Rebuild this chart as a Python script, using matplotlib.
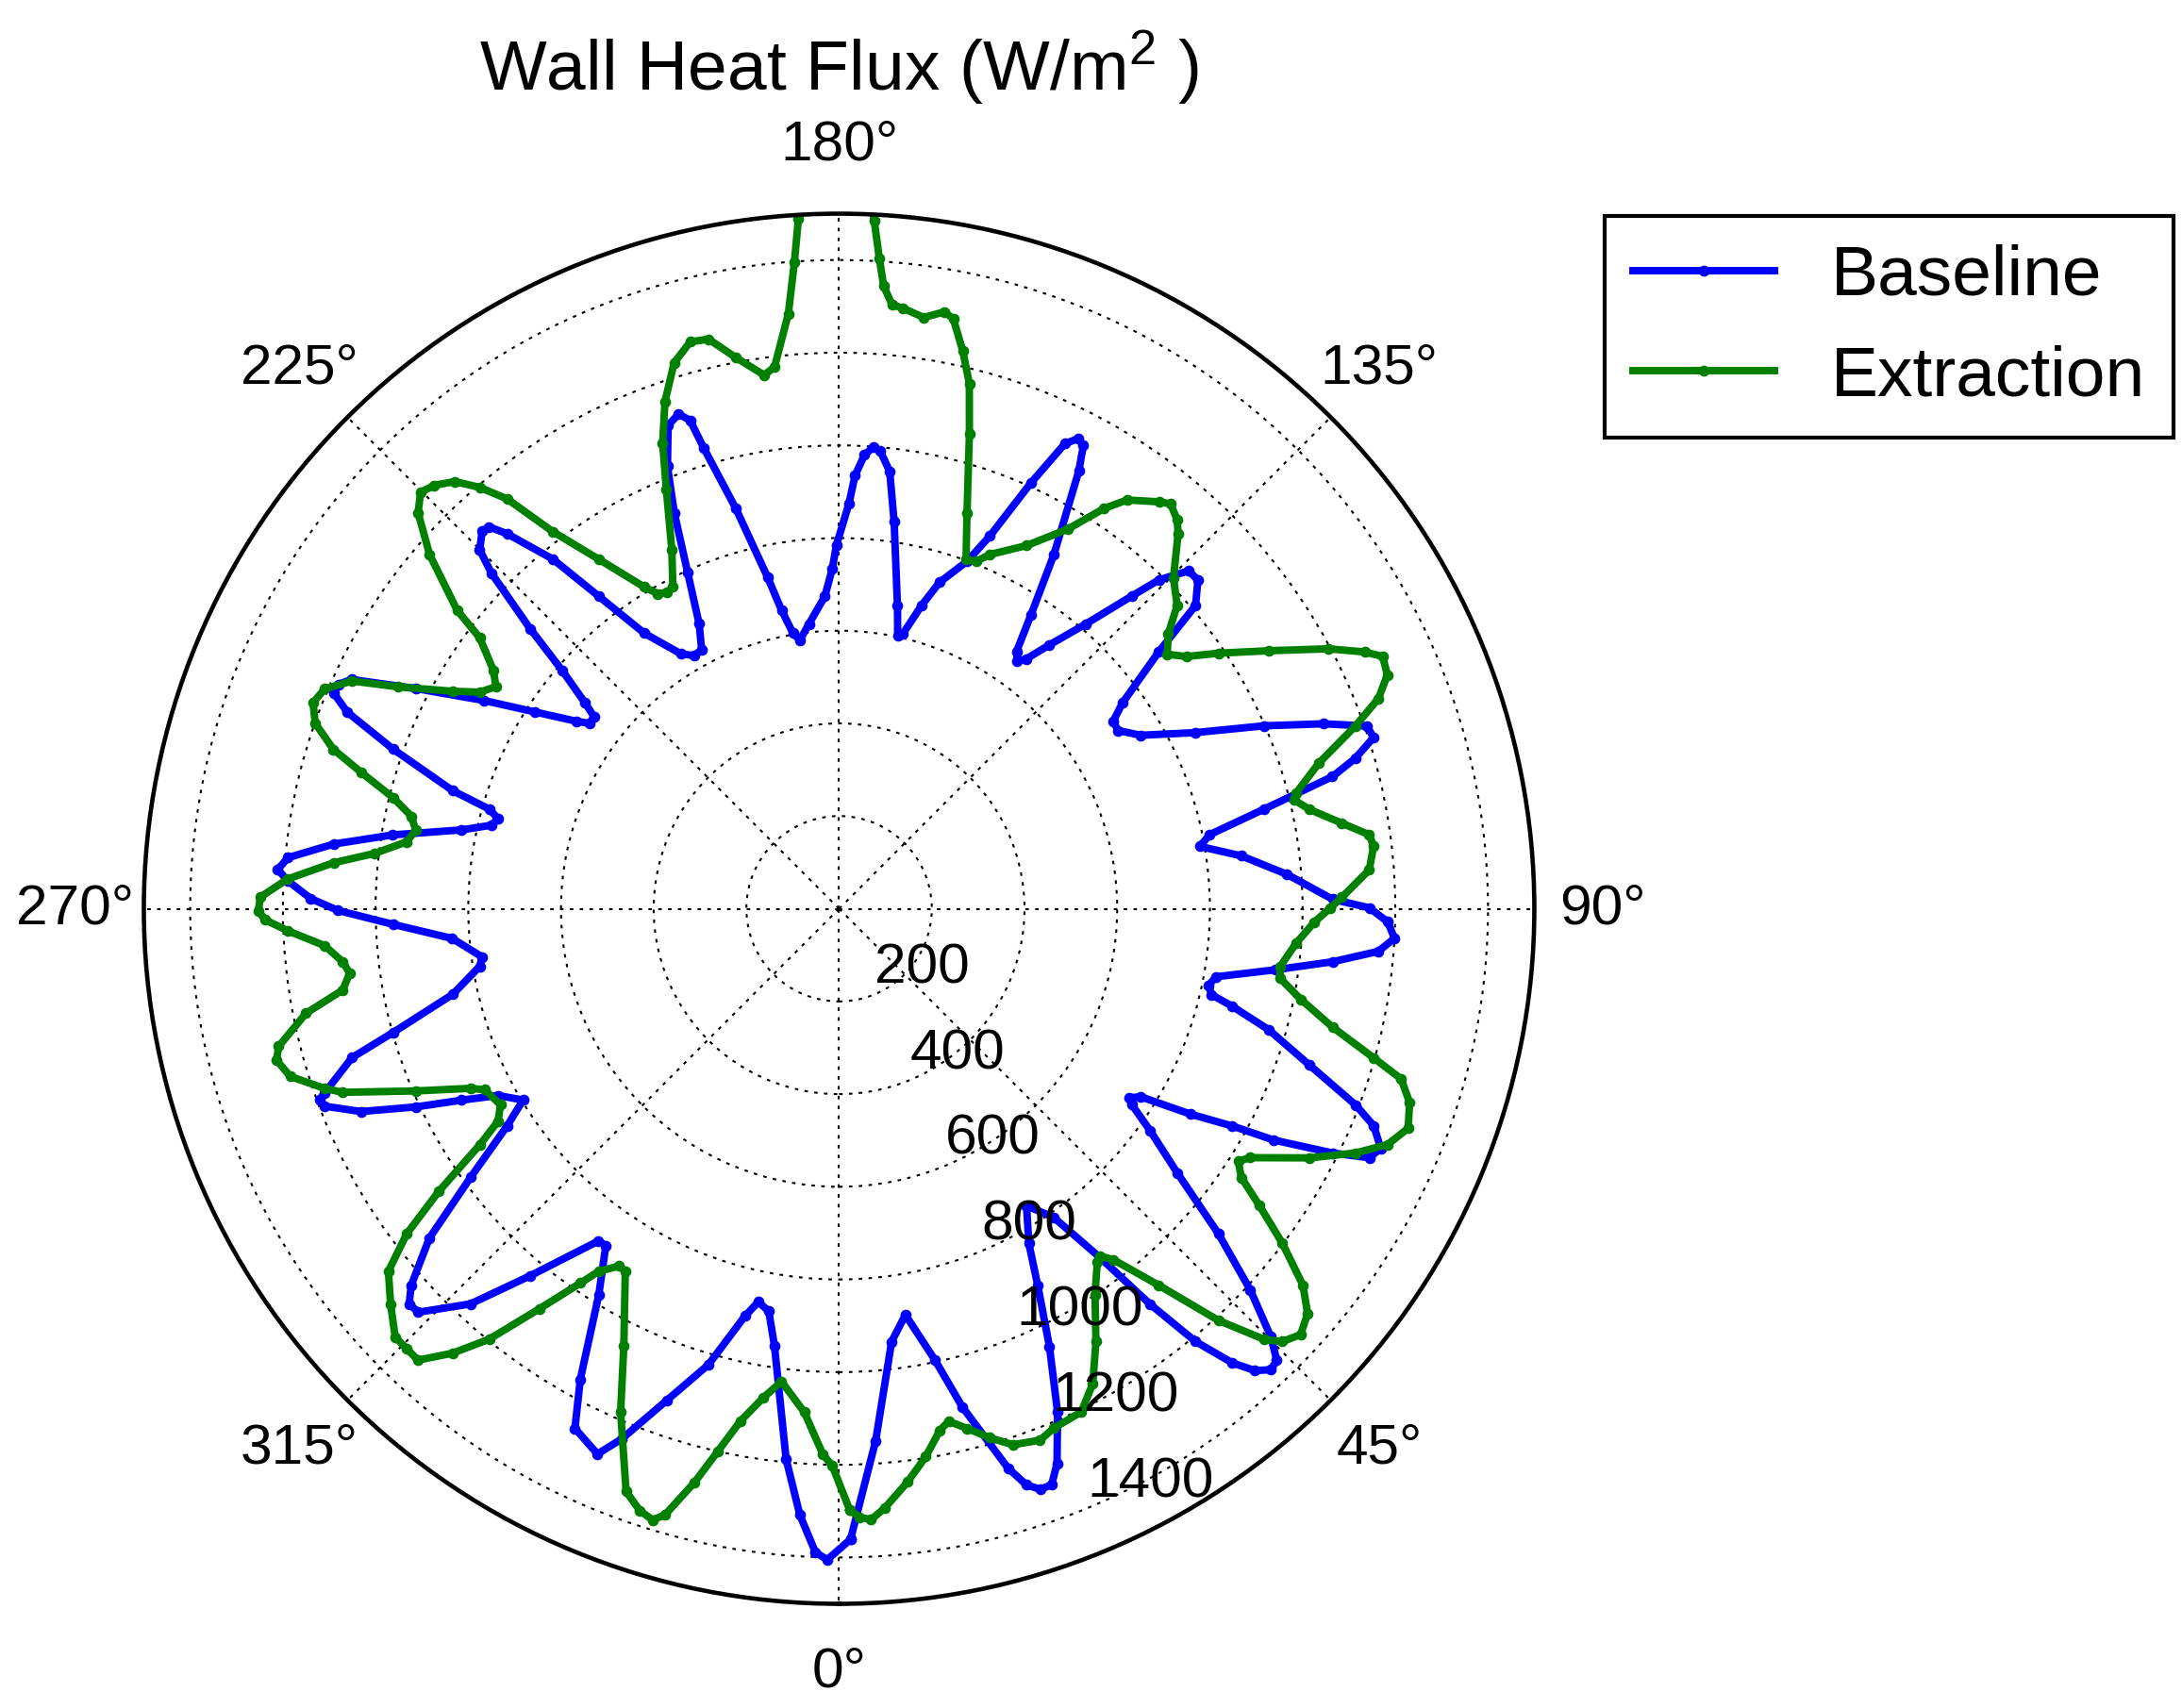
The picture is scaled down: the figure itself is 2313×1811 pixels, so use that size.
import numpy as np
import matplotlib
matplotlib.use('Agg')
import matplotlib.pyplot as plt

plt.rcParams['font.family'] = ['Liberation Sans', 'DejaVu Sans']
plt.rcParams['mathtext.fontset'] = 'custom'
plt.rcParams['mathtext.rm'] = 'Liberation Sans'
plt.rcParams['mathtext.it'] = 'Liberation Sans'
plt.rcParams['mathtext.default'] = 'regular'

title = 'Wall Heat Flux (W/m$^2$ )'
series_labels = ['Baseline', 'Extraction']
r_ticks = [200, 400, 600, 800, 1000, 1200, 1400]
theta_ticks = [0, 45, 90, 135, 180, 225, 270, 315]
r_max = 1500

baseline_theta = [1.04, 3.93, 6.92, 9.27, 12.0, 13.9, 16.8, 18.0, 19.1, 20.25, 21.45, 23.46, 25.66, 27.8,
                  29.55, 32.25, 34.8, 36.78, 38.17, 39.47, 40.88, 41.99, 43.13, 44.1, 45.24, 47.16, 49.4,
                  52.0, 54.5, 56.2, 56.9, 58.06, 59.7, 61.07, 61.97, 63.66, 64.84, 66.13, 67.9, 69.2,
                  71.6, 74.27, 76.06, 77.0, 78.3, 79.78, 82.04, 83.87, 85.48, 86.95, 88.63, 90.1, 91.1,
                  94.4, 97.5, 99.8, 101.3, 103.2, 105.0, 106.25, 107.77, 109.1, 110.9, 113.3, 116.3,
                  119.9, 122.6, 124.4, 126.0, 128.8, 130.4, 132.5, 134.04, 135.8, 136.9, 139.1, 141.45,
                  143.15, 144.27, 145.4, 146.87, 148.77, 151.3, 152.2, 153.05, 154.1, 155.75, 157.97,
                  159.78, 162.9, 164.8, 166.9, 167.9, 169.1, 171.9, 173.4, 174.9, 175.75, 176.8, 177.9,
                  178.6, 180.43, 181.15, 182.6, 186.04, 188.3, 189.5, 190.9, 192.15, 194.46, 196.36,
                  196.96, 197.97, 199.46, 201.2, 202.6, 204.26, 206.15, 207.94, 209.7, 211.8, 215.25,
                  217.56, 219.3, 221.5, 222.5, 223.4, 225.03, 226.0, 227.8, 229.27, 230.96, 231.89,
                  233.4, 234.5, 237.1, 239.6, 242.5, 244.8, 245.85, 246.9, 248.2, 250.3, 253.0, 254.1,
                  255.2, 256.5, 258.2, 260.6, 262.7, 264.7, 266.0, 267.1, 268.9, 270.2, 272.0, 274.4,
                  277.7, 279.1, 282.5, 285.5, 287.0, 289.7, 290.2, 291.0, 293.0, 295.1, 296.9, 298.7,
                  301.2, 303.2, 306.1, 308.8, 311.36, 312.6, 313.8, 317.0, 319.9, 324.1, 325.3, 328.1,
                  331.2, 333.06, 336.1, 337.7, 340.7, 344.0, 347.0, 348.4, 350.1, 351.6, 354.5, 356.3,
                  357.9, 358.96, 361.04]
baseline_r = [1361, 1151, 941, 888, 996, 1108, 1261, 1307, 1326, 1325, 1286, 1184, 1048, 919,
              830, 758, 811, 939, 1085, 1210, 1296, 1341, 1363, 1357, 1312, 1210, 1078,
              926, 824, 760, 747, 767, 879, 969, 1062, 1188, 1264, 1278, 1245, 1192,
              1070, 963, 874, 825, 814, 827, 951, 1071, 1167, 1200, 1184, 1144, 1065,
              969, 875, 790, 815, 942, 1102, 1160, 1211, 1205, 1119, 998, 858,
              751, 714, 717, 756, 885, 1010, 1050, 1049, 990, 924, 813, 728,
              674, 658, 674, 758, 894, 1077, 1130, 1138, 1116, 1008, 868,
              799, 737, 678, 610, 603, 666, 843, 950, 993, 999, 981, 935,
              875, 784, 734, 675, 618, 586, 603, 656, 731, 892, 1036,
              1102, 1122, 1107, 1024, 925, 795, 685, 633, 629, 647, 728,
              851, 975, 1080, 1118, 1121, 1096, 1043, 900, 789, 706, 672,
              671, 697, 782, 888, 1029, 1162, 1184, 1185, 1143, 1022, 872, 785,
              761, 772, 832, 976, 1099, 1194, 1214, 1191, 1140, 1081, 963, 837,
              777, 785, 854, 998, 1099, 1179, 1194, 1189, 1120, 1008, 913, 839,
              797, 856, 984, 1134, 1230, 1260, 1258, 1166, 1036, 885, 884, 981,
              1159, 1258, 1287, 1237, 1124, 1024, 902, 866, 882, 954, 1193, 1311,
              1390, 1405, 1361]

extraction_theta = [1.0, 1.94, 3.0, 4.36, 6.8, 9.0, 10.9, 12.07, 13.83, 15.9, 17.95, 20.7, 22.45, 25.7,
                    28.1, 30.68, 33.55, 36.17, 36.94, 38.0, 40.33, 42.65, 44.63, 45.68, 47.3, 49.17,
                    50.93, 52.96, 54.77, 56.24, 57.68, 58.8, 62.1, 64.67, 66.72, 68.9, 71.24, 73.15,
                    74.4, 76.5, 78.9, 81.05, 82.55, 85.7, 88.4, 90.1, 91.3, 94.2, 96.67, 97.95, 99.67,
                    101.9, 103.46, 104.2, 106.9, 109.5, 111.3, 113.1, 114.9, 116.05, 118.0, 121.0,
                    123.97, 126.0, 127.8, 129.9, 131.9, 134.7, 137.9, 139.0, 140.7, 141.83, 144.84,
                    146.5, 148.96, 152.7, 156.93, 158.46, 160.03, 162.1, 164.65, 166.08, 167.5, 169.05,
                    170.0, 171.86, 173.9, 175.0, 175.9, 176.46, 177.07, 178.0, 180.0, 182.5, 183.37,
                    183.96, 184.87, 186.8, 187.99, 190.6, 192.9, 194.7, 196.8, 198.95, 200.76, 202.4,
                    204.99, 207.3, 208.5, 209.9, 211.2, 214.5, 217.2, 219.0, 220.45, 221.97, 223.7,
                    225.13, 226.75, 229.14, 231.98, 232.98, 235.4, 237.08, 238.9, 240.63, 243.3, 244.93,
                    246.86, 248.6, 250.5, 252.5, 254.05, 256.0, 257.8, 259.5, 261.2, 263.2, 264.8,
                    266.9, 268.85, 270.2, 271.1, 272.3, 274.1, 276.1, 277.5, 279.3, 281.1, 283.8,
                    285.07, 287.0, 289.25, 290.3, 293.3, 296.0, 297.05, 300.07, 301.93, 303.3, 305.24,
                    306.94, 308.82, 311.4, 313.98, 315.5, 317.0, 318.99, 320.9, 323.16, 325.36, 326.46,
                    328.4, 329.47, 333.8, 336.54, 339.93, 341.68, 343.03, 343.98, 345.87, 347.38, 349.1,
                    351.18, 353.06, 356.05, 358.3, 359.3, 361.0]
extraction_r = [1297, 1314, 1320, 1297, 1246, 1197, 1147, 1131, 1155, 1187, 1216, 1226, 1213, 1205,
                1162, 1086, 999, 944, 938, 961, 1066, 1208, 1306, 1337, 1355, 1336,
                1289, 1198, 1110, 1044, 1019, 1037, 1149, 1232, 1288, 1316, 1300, 1267,
                1198, 1095, 1015, 963, 960, 989, 1026, 1060, 1085, 1147, 1161, 1155, 1100,
                1038, 1009, 1017, 1082, 1182, 1249, 1286, 1293, 1262, 1195, 1081,
                987, 926, 896, 926, 980, 1015, 1091, 1112, 1129, 1117, 1079,
                1036, 956, 882, 831, 806, 802, 898, 1062, 1168, 1233, 1297,
                1308, 1289, 1303, 1309, 1347, 1406, 1486, 1600, 1650, 1600, 1492,
                1398, 1289, 1177, 1163, 1210, 1261, 1265, 1231, 1157, 1074, 978,
                854, 782, 777, 784, 812, 915, 1022, 1138, 1195, 1240, 1264,
                1274, 1247, 1168, 1046, 971, 906, 882, 905, 957, 1066, 1160,
                1207, 1219, 1199, 1144, 1073, 992, 944, 929, 944, 1009, 1095,
                1191, 1249, 1253, 1239, 1190, 1113, 1077, 1065, 1085, 1172, 1245,
                1257, 1238, 1176, 1142, 994, 884, 859, 844, 867, 927, 1058,
                1167, 1248, 1290, 1331, 1331, 1332, 1271, 1197, 1079, 982, 939,
                905, 908, 1052, 1184, 1339, 1368, 1379, 1361, 1276, 1201, 1126,
                1068, 1028, 1089, 1178, 1202, 1297]

fig = plt.figure(figsize=(2313 / 300, 1811 / 300), dpi=300)
ax = fig.add_axes([0.0659, 0.061, 0.6373, 0.8139], projection='polar')
ax.set_theta_zero_location('S')
ax.set_theta_direction(1)

ax.plot(np.deg2rad(baseline_theta), baseline_r, color='blue', lw=1.9,
        marker='.', ms=3.6, label=series_labels[0])
ax.plot(np.deg2rad(extraction_theta), extraction_r, color='green', lw=1.9,
        marker='.', ms=3.6, label=series_labels[1])

ax.set_ylim(0, r_max)
ax.set_xticks(np.deg2rad(theta_ticks))
ax.set_yticks(r_ticks)
ax.set_yticklabels([])
ax.grid(True, color='black', linestyle=(0, (1.8, 3.2)), linewidth=0.5)
ax.tick_params(axis='x', labelsize=14.5, pad=10.4, length=0)
ax.tick_params(axis='y', length=0)
ax.spines['polar'].set_linewidth(1.1)

for r in r_ticks:
    ax.text(np.deg2rad(22.5), r, str(r), ha='left', va='bottom', fontsize=14.5)

ax.set_title(title, y=1.0885, pad=0, fontsize=18, va='baseline')

leg = fig.legend(loc='upper left', bbox_to_anchor=(0.7354, 0.8736), bbox_transform=fig.transFigure,
                 borderaxespad=0, fontsize=18, numpoints=1, fancybox=False, framealpha=1,
                 edgecolor='black', handlelength=2.0, handletextpad=0.8)
leg.get_frame().set_linewidth(1.0)

fig.savefig('out.png', dpi=300)
